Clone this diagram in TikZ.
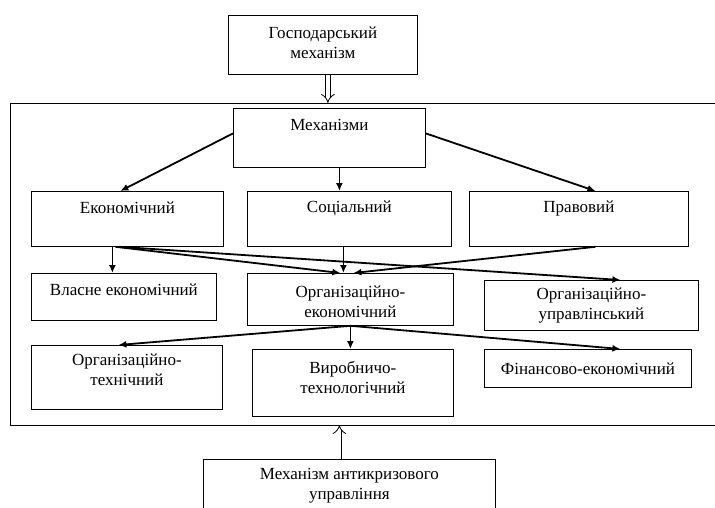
\documentclass[tikz,border=0pt]{standalone}
\usepackage{fontspec}
\setmainfont{Liberation Serif}
\usetikzlibrary{positioning}
\usetikzlibrary{arrows.meta}
\tikzstyle{blok}=[draw,line width=0.8pt,rectangle,anchor=north west,inner sep=0pt]
\tikzstyle{napys}=[align=center,inner sep=0pt,font=\fontsize{17}{20}\selectfont]
\tikzstyle{strilka}=[line width=1.8pt,-{Latex[length=8pt,width=7pt]}]
\tikzstyle{podviyna}=[double,line width=0.8pt,double distance=4pt,-{Implies}]

\begin{document}
\begin{tikzpicture}[x=1pt,y=-1pt]  % coordinates in pixels, y downwards
\useasboundingbox (0,0) rectangle (715,508);

% top and bottom boxes
\node[blok,minimum width=189pt,minimum height=59pt] (gosp) at (228,15) {};
\node[blok,minimum width=292pt,minimum height=70pt] (anti) at (203,459) {};

% frame (right side runs off the page)
\coordinate (ramka-nw) at (10,103);
\coordinate (ramka-se) at (716,425);
\draw[line width=0.8pt] (716,103) -- (ramka-nw) |- (ramka-se);

% boxes inside the frame
\node[blok,minimum width=192pt,minimum height=59pt] (mekh) at (233,108) {};
\node[blok,minimum width=192pt,minimum height=55pt] (ekon) at (31,191) {};
\node[blok,minimum width=204pt,minimum height=55pt] (sots) at (247,191) {};
\node[blok,minimum width=219pt,minimum height=55pt] (prav) at (469,191) {};
\node[blok,minimum width=185pt,minimum height=47pt] (vlas) at (31,273) {};
\node[blok,minimum width=206pt,minimum height=52pt] (orgek) at (247,273) {};
\node[blok,minimum width=214pt,minimum height=50pt] (orgupr) at (484,280) {};
\node[blok,minimum width=191pt,minimum height=64pt] (orgtekh) at (31,345) {};
\node[blok,minimum width=201pt,minimum height=67pt] (vyrob) at (252,349) {};
\node[blok,minimum width=207pt,minimum height=38pt] (fin) at (484,349) {};

% texts
\node[napys] (gosp-t) at ([yshift=2pt]gosp.center) {Господарський\\механізм};
\node[napys] (anti-t) at ([yshift=-27pt]anti.north) {Механізм антикризового\\управління};
\node[napys] (mekh-t) at ([yshift=-17pt]mekh.north) {Механізми};
\node[napys] (ekon-t) at ([yshift=-17pt]ekon.north) {Економічний};
\node[napys] (sots-t) at ([yshift=-17pt]sots.north) {Соціальний};
\node[napys] (prav-t) at ([yshift=-17pt]prav.north) {Правовий};
\node[napys] (vlas-t) at ([yshift=-17pt]vlas.north) {Власне економічний};
\node[napys] (orgek-t) at ([yshift=-2pt]orgek.center) {Організаційно-\\економічний};
\node[napys] (orgupr-t) at (orgupr.center) {Організаційно-\\управлінський};
\node[napys] (orgtekh-t) at ([yshift=-25pt]orgtekh.north) {Організаційно-\\технічний};
\node[napys] (vyrob-t) at ([yshift=-28pt]vyrob.north) {Виробничо-\\технологічний};
\node[napys] (fin-t) at (fin.center) {Фінансово-економічний};

% double arrows into the frame
\coordinate (g) at ([xshift=5pt]gosp.south);
\draw[podviyna] (g) -- (g |- ramka-nw);
\coordinate (a) at ([xshift=-10pt]anti.north);
\draw[podviyna] (a) -- (a |- ramka-se);

% Механізми -> three kinds
\draw[strilka] ([yshift=4.5pt]mekh.west) -- ([xshift=-7pt]ekon.north);
\draw[strilka] ([xshift=10pt]mekh.south) -- ([xshift=-10pt]sots.north);
\draw[strilka] ([yshift=4.5pt]mekh.east) -- ([xshift=16.5pt]prav.north);

% second row -> third row
\draw[strilka] ([xshift=-15pt]ekon.south) -- ([xshift=-11.5pt]vlas.north);
\draw[strilka] ([xshift=-12pt]ekon.south) -- ([xshift=-10pt]orgek.north);
\draw[strilka] ([xshift=-8pt]ekon.south) -- ([xshift=29pt]orgupr.north);
\draw[strilka] ([xshift=-6pt]sots.south) -- ([xshift=-7pt]orgek.north);
\draw[strilka] ([xshift=16.5pt]prav.south) -- ([xshift=3pt]orgek.north);

% Організаційно-економічний -> fourth row
\draw[strilka] (orgek.south) -- ([xshift=-8.5pt]orgtekh.north);
\draw[strilka] (orgek.south) -- ([xshift=-2.5pt]vyrob.north);
\draw[strilka] (orgek.south) -- ([xshift=32.5pt]fin.north);
\end{tikzpicture}
\end{document}
